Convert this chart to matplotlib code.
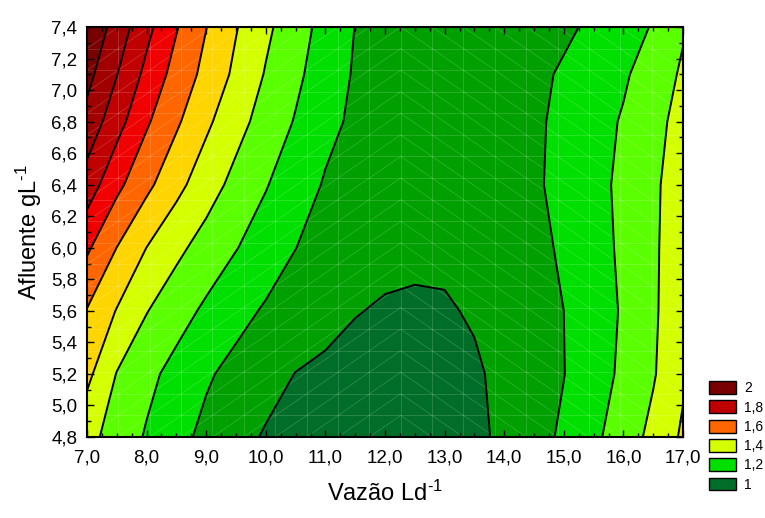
import matplotlib
matplotlib.use("Agg")
import matplotlib.pyplot as plt
import numpy as np
from matplotlib.patches import Patch
from matplotlib.collections import LineCollection
from matplotlib.ticker import MultipleLocator, AutoMinorLocator, FuncFormatter

plt.rcParams['font.family'] = 'Liberation Sans'
plt.rcParams['mathtext.fontset'] = 'custom'
plt.rcParams['mathtext.rm'] = 'Liberation Sans'
plt.rcParams['mathtext.it'] = 'Liberation Sans:italic'

# grid
vazao = [7.0, 7.5, 8.0, 8.5, 9.0, 9.5, 10.0, 10.5, 11.0, 11.5, 12.0,
         12.5, 13.0, 13.5, 14.0, 14.5, 15.0, 15.5, 16.0, 16.5, 17.0]
afluente = [4.8, 5.2, 5.6, 6.0, 6.4, 6.8, 7.1, 7.4]
resposta = [
    [1.330, 1.260, 1.190, 1.129, 1.076, 1.030, 0.991, 0.971, 0.957, 0.948, 0.945,
     0.949, 0.961, 0.982, 1.016, 1.064, 1.116, 1.180, 1.249, 1.327, 1.415],
    [1.425, 1.296, 1.227, 1.167, 1.112, 1.071, 1.034, 0.998, 0.981, 0.969, 0.964,
     0.964, 0.973, 0.989, 1.020, 1.059, 1.098, 1.156, 1.219, 1.291, 1.385],
    [1.495, 1.395, 1.304, 1.241, 1.182, 1.131, 1.089, 1.060, 1.032, 1.004, 0.991,
     0.988, 0.992, 1.008, 1.039, 1.069, 1.100, 1.154, 1.210, 1.285, 1.370],
    [1.616, 1.499, 1.399, 1.323, 1.261, 1.204, 1.152, 1.101, 1.067, 1.042, 1.025,
     1.017, 1.016, 1.025, 1.044, 1.073, 1.114, 1.163, 1.217, 1.286, 1.355],
    [1.755, 1.625, 1.524, 1.429, 1.344, 1.271, 1.206, 1.144, 1.092, 1.068, 1.052,
     1.042, 1.040, 1.047, 1.062, 1.087, 1.126, 1.170, 1.221, 1.285, 1.345],
    [1.868, 1.738, 1.613, 1.515, 1.419, 1.334, 1.261, 1.193, 1.124, 1.084, 1.065,
     1.054, 1.050, 1.054, 1.066, 1.086, 1.120, 1.163, 1.209, 1.273, 1.330],
    [1.931, 1.803, 1.674, 1.563, 1.472, 1.379, 1.293, 1.221, 1.148, 1.091, 1.072,
     1.060, 1.055, 1.057, 1.066, 1.083, 1.109, 1.148, 1.187, 1.246, 1.314],
    [1.990, 1.858, 1.728, 1.607, 1.502, 1.406, 1.320, 1.242, 1.167, 1.098, 1.081,
     1.069, 1.062, 1.060, 1.064, 1.070, 1.087, 1.113, 1.158, 1.207, 1.290],
]

niveis = [0.8, 1.0, 1.1, 1.2, 1.3, 1.4, 1.5, 1.6, 1.7, 1.8, 1.9, 2.2]
cores = ['#006e28', '#00a000', '#00e000', '#5aff00', '#d4ff00', '#ffd500',
         '#ff6600', '#f00000', '#c00000', '#a00000', '#780000']

legenda_rotulos = ['2', '1,8', '1,6', '1,4', '1,2', '1']
legenda_cores = [cores[10], cores[8], cores[6], cores[4], cores[2], cores[0]]


def mesh_segments():
    # faint triangulation mesh like the original software draws
    xm = np.linspace(7, 17, 20)
    ym = np.linspace(4.8, 7.4, 20)
    segs = []
    for x in xm[1:-1]:
        segs.append([(x, ym[0]), (x, ym[-1])])
    for y in ym[1:-1]:
        segs.append([(xm[0], y), (xm[-1], y)])
    for i in range(19):
        for j in range(19):
            if i < 10:
                segs.append([(xm[i], ym[j]), (xm[i + 1], ym[j + 1])])
            else:
                segs.append([(xm[i], ym[j + 1]), (xm[i + 1], ym[j])])
    return segs


def virgula(v, pos):
    return f"{v:.1f}".replace('.', ',')


def main():
    X, Y = np.meshgrid(vazao, afluente)
    Z = np.array(resposta)

    fig = plt.figure(figsize=(7.65, 5.18), dpi=100)
    ax = fig.add_axes([87 / 765, 1 - 437 / 518, 596 / 765, 410 / 518])

    ax.contourf(X, Y, Z, levels=niveis, colors=cores)
    ax.add_collection(LineCollection(mesh_segments(), colors='white',
                                     linewidths=0.5, alpha=0.22, zorder=2))
    ax.contour(X, Y, Z, levels=niveis[1:-1], colors='black',
               linewidths=1.4, zorder=3)

    ax.set_xlim(7, 17)
    ax.set_ylim(4.8, 7.4)
    ax.xaxis.set_major_locator(MultipleLocator(1))
    ax.xaxis.set_minor_locator(AutoMinorLocator(4))
    ax.yaxis.set_major_locator(MultipleLocator(0.2))
    ax.yaxis.set_minor_locator(AutoMinorLocator(2))
    ax.xaxis.set_major_formatter(FuncFormatter(virgula))
    ax.yaxis.set_major_formatter(FuncFormatter(virgula))
    ax.tick_params(which='both', direction='in', top=True, right=True,
                   color='black', width=1.0)
    ax.tick_params(which='major', length=5, labelsize=13.5)
    ax.tick_params(which='minor', length=3)
    ax.tick_params(axis='x', which='major', pad=9)
    ax.tick_params(axis='y', which='major', pad=7)
    for s in ax.spines.values():
        s.set_linewidth(1.5)
        s.set_zorder(5)

    ax.set_xlabel(r"Vazão Ld$^{\text{-1}}$", fontsize=17, labelpad=10)
    ax.set_ylabel(r"Afluente gL$^{\text{-1}}$", fontsize=17, labelpad=5)

    handles = [Patch(facecolor=c, edgecolor='black', linewidth=1.0)
               for c in legenda_cores]
    fig.legend(handles, legenda_rotulos, loc='upper left',
               bbox_to_anchor=(709 / 765, 1 - 381 / 518), frameon=False,
               fontsize=10, handlelength=1.95, handleheight=1.05,
               labelspacing=0.37, handletextpad=0.6, borderpad=0,
               borderaxespad=0)

    fig.savefig("out.png", dpi=100)


if __name__ == "__main__":
    main()
